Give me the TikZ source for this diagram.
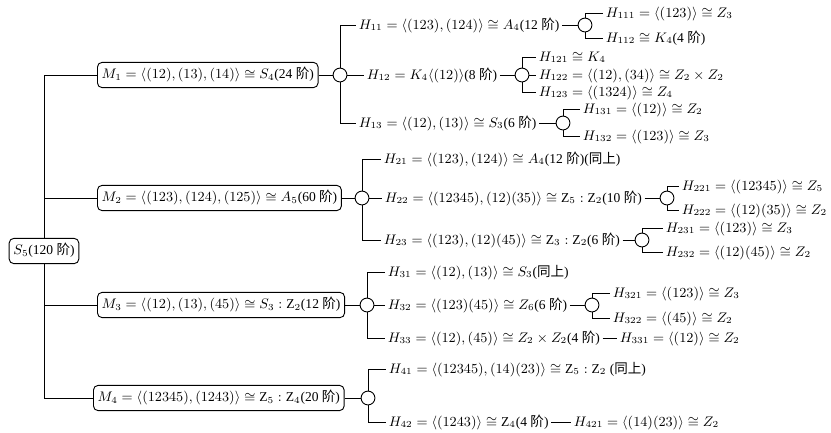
\documentclass[tikz,border=0pt]{standalone}
\usepackage{fontspec}
\setmainfont{Liberation Serif}
\newfontfamily\cjk{Noto Sans CJK SC}
\newcommand\jie{{\cjk 阶}}
\newcommand\tsh{{\cjk 同上}}
\begin{document}
\begin{tikzpicture}[x=0.65pt, y=-0.65pt, line width=0.6pt,
  every node/.style={font=\fontsize{8.8}{10.5}\selectfont},
  grp/.style={draw, rounded corners=3pt, inner sep=2.7pt, text height=0.8em, text depth=0.3em},
  sub/.style={anchor=west, inner sep=1.5pt, text height=0.8em, text depth=0.25em},
  knot/.style={draw, circle, minimum size=9pt, inner sep=0pt}]
  \useasboundingbox (0,0) rectangle (831,432);
  % S5 and its maximal subgroups
  \node[grp] (S5) at (44,251) {$S_5$(120 \jie)};
  \node[grp, anchor=west] (M1) at (97,75) {$M_1=\langle(12),(13),(14)\rangle\cong S_4$(24 \jie)};
  \node[grp, anchor=west] (M2) at (97,198) {$M_2=\langle(123),(124),(125)\rangle\cong A_5$(60 \jie)};
  \node[grp, anchor=west] (M3) at (97,305) {$M_3=\langle(12),(13),(45)\rangle\cong S_3:\mathrm{Z}_2$(12 \jie)};
  \node[grp, anchor=west] (M4) at (93,398) {$M_4=\langle(12345),(1243)\rangle\cong \mathrm{Z}_5:\mathrm{Z}_4$(20 \jie)};
  \draw (S5.north) |- (M1.west);
  \draw (S5.north) |- (M2.west);
  \draw (S5.south) |- (M3.west);
  \draw (S5.south) |- (M4.west);
  % M1
  \node[knot] (c1) at (340,75) {};
  \node[sub] (H11) at (356,25) {$H_{11}=\langle(123),(124)\rangle\cong A_4$(12 \jie)};
  \node[sub] (H12) at (364,75) {$H_{12}=K_4\langle(12)\rangle$(8 \jie)};
  \node[sub] (H13) at (356,123) {$H_{13}=\langle(12),(13)\rangle\cong S_3$(6 \jie)};
  \draw (M1.east) -- (c1.west);
  \draw (c1.north) |- (H11.west);
  \draw (c1.east) -- (H12.west);
  \draw (c1.south) |- (H13.west);
  \node[knot] (c11) at (585,25) {};
  \node[sub] (H111) at (603,13) {$H_{111}=\langle(123)\rangle\cong Z_3$};
  \node[sub] (H112) at (603,38) {$H_{112}\cong K_4$(4 \jie)};
  \draw (H11.east) -- (c11.west);
  \draw (c11.north) |- (H111.west);
  \draw (c11.south) |- (H112.west);
  \node[knot] (c12) at (522,75) {};
  \node[sub] (H121) at (536,57) {$H_{121}\cong K_4$};
  \node[sub] (H122) at (536,75) {$H_{122}=\langle(12),(34)\rangle\cong Z_2\times Z_2$};
  \node[sub] (H123) at (536,92) {$H_{123}=\langle(1324)\rangle\cong Z_4$};
  \draw (H12.east) -- (c12.west);
  \draw (c12.north) |- (H121.west);
  \draw (c12.east) -- (H122.west);
  \draw (c12.south) |- (H123.west);
  \node[knot] (c13) at (563,123) {};
  \node[sub] (H131) at (580,109) {$H_{131}=\langle(12)\rangle\cong Z_2$};
  \node[sub] (H132) at (580,136) {$H_{132}=\langle(123)\rangle\cong Z_3$};
  \draw (H13.east) -- (c13.west);
  \draw (c13.north) |- (H131.west);
  \draw (c13.south) |- (H132.west);
  % M2
  \node[knot] (c2) at (362,198) {};
  \node[sub] (H21) at (381,159) {$H_{21}=\langle(123),(124)\rangle\cong A_4$(12 \jie)(\tsh)};
  \node[sub] (H22) at (382,198) {$H_{22}=\langle(12345),(12)(35)\rangle\cong \mathrm{Z}_5:\mathrm{Z}_2$(10 \jie)};
  \node[sub] (H23) at (381,240) {$H_{23}=\langle(123),(12)(45)\rangle\cong \mathrm{Z}_3:\mathrm{Z}_2$(6 \jie)};
  \draw (M2.east) -- (c2.west);
  \draw (c2.north) |- (H21.west);
  \draw (c2.east) -- (H22.west);
  \draw (c2.south) |- (H23.west);
  \node[knot] (c22) at (667,198) {};
  \node[sub] (H221) at (679,186) {$H_{221}=\langle(12345)\rangle\cong Z_5$};
  \node[sub] (H222) at (679,210) {$H_{222}=\langle(12)(35)\rangle\cong Z_2$};
  \draw (H22.east) -- (c22.west);
  \draw (c22.north) |- (H221.west);
  \draw (c22.south) |- (H222.west);
  \node[knot] (c23) at (642,240) {};
  \node[sub] (H231) at (663,228) {$H_{231}=\langle(123)\rangle\cong Z_3$};
  \node[sub] (H232) at (663,252) {$H_{232}=\langle(12)(45)\rangle\cong Z_2$};
  \draw (H23.east) -- (c23.west);
  \draw (c23.north) |- (H231.west);
  \draw (c23.south) |- (H232.west);
  % M3
  \node[knot] (c3) at (367,305) {};
  \node[sub] (H31) at (385,272) {$H_{31}=\langle(12),(13)\rangle\cong S_3$(\tsh)};
  \node[sub] (H32) at (385,305) {$H_{32}=\langle(123)(45)\rangle\cong Z_6$(6 \jie)};
  \node[sub] (H33) at (385,338) {$H_{33}=\langle(12),(45)\rangle\cong Z_2\times Z_2$(4 \jie)};
  \draw (M3.east) -- (c3.west);
  \draw (c3.north) |- (H31.west);
  \draw (c3.east) -- (H32.west);
  \draw (c3.south) |- (H33.west);
  \node[knot] (c32) at (592,305) {};
  \node[sub] (H321) at (610,293) {$H_{321}=\langle(123)\rangle\cong Z_3$};
  \node[sub] (H322) at (610,318) {$H_{322}=\langle(45)\rangle\cong Z_2$};
  \draw (H32.east) -- (c32.west);
  \draw (c32.north) |- (H321.west);
  \draw (c32.south) |- (H322.west);
  \node[sub] (H331) at (617,338) {$H_{331}=\langle(12)\rangle\cong Z_2$};
  \draw (H33.east) -- (H331.west);
  % M4
  \node[knot] (c4) at (368,398) {};
  \node[sub] (H41) at (386,369) {$H_{41}=\langle(12345),(14)(23)\rangle\cong \mathrm{Z}_5:\mathrm{Z}_2$ (\tsh)};
  \node[sub] (H42) at (386,422) {$H_{42}=\langle(1243)\rangle\cong \mathrm{Z}_4$(4 \jie)};
  \draw (M4.east) -- (c4.west);
  \draw (c4.north) |- (H41.west);
  \draw (c4.south) |- (H42.west);
  \node[sub] (H421) at (571,422) {$H_{421}=\langle(14)(23)\rangle\cong Z_2$};
  \draw (H42.east) -- (H421.west);
\end{tikzpicture}
\end{document}
